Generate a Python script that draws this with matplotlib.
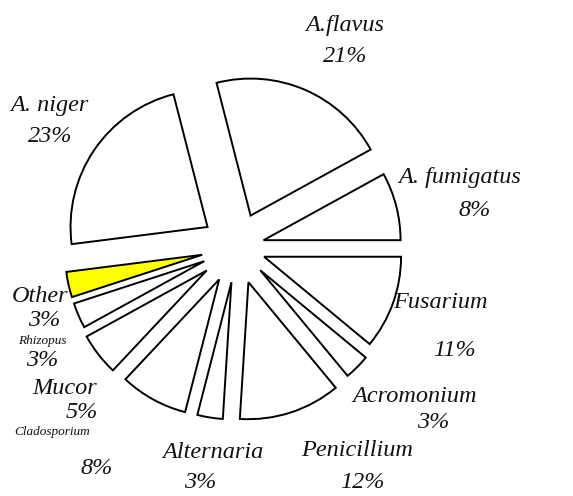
import matplotlib
matplotlib.use("Agg")
import matplotlib.pyplot as plt

# slices, counter-clockwise from 3 o'clock
names = ["A. fumigatus", "A.flavus", "A. niger", "Other", "Rhizopus", "Mucor",
         "Cladosporium", "Alternaria", "Penicillium", "Acromonium", "Fusarium"]
shares = [8, 21, 23, 3, 3, 5, 8, 3, 12, 3, 11]
pct_labels = ["8%", "21%", "23%", "3%", "3%", "5%", "8%", "3%", "12%", "3%", "11%"]

# layout (pixels in a 573x496 image)
W, H = 573, 496
CX, CY, RPX = 237, 247, 137
explode = [0.20, 0.25, 0.26, 0.26, 0.26, 0.28, 0.27, 0.26, 0.27, 0.24, 0.21]
colors = ["white"] * len(shares)
colors[names.index("Other")] = "#ffff00"

# (name x, name y, pct x, pct y, small font?)
label_pos = {
    "A.flavus": (345, 25, 345, 57, False),
    "A. niger": (50, 105, 50, 137, False),
    "A. fumigatus": (460, 177, 475, 210, False),
    "Fusarium": (440, 303, 455, 350, False),
    "Acromonium": (415, 397, 433, 423, False),
    "Penicillium": (357, 450, 362, 483, False),
    "Alternaria": (213, 453, 200, 483, False),
    "Cladosporium": (52, 432, 97, 468, True),
    "Mucor": (65, 388, 82, 413, False),
    "Rhizopus": (42, 341, 42, 360, True),
    "Other": (40, 297, 44, 320, False),
}

fig = plt.figure(figsize=(W / 100, H / 100), dpi=100)
ax = fig.add_axes([0, 0, 1, 1])
ax.pie(shares, explode=explode, colors=colors, startangle=0, counterclock=True,
       radius=1.0, wedgeprops=dict(edgecolor="black", linewidth=1.4))
ax.set_xlim(-CX / RPX, (W - CX) / RPX)
ax.set_ylim((CY - H) / RPX, CY / RPX)
ax.set_aspect("equal")
ax.axis("off")

font = dict(family=["Liberation Serif", "DejaVu Serif"], style="italic", color="#111111")
for name, pct in zip(names, pct_labels):
    nx, ny, px, py, small = label_pos[name]
    fs_name = 9.5 if small else 17.5
    fig.text(nx / W, 1 - ny / H, name, ha="center", va="center", fontsize=fs_name, **font)
    fig.text(px / W, 1 - py / H, pct, ha="center", va="center", fontsize=17.5, **font)

fig.savefig("out.png", dpi=100, facecolor="white")
